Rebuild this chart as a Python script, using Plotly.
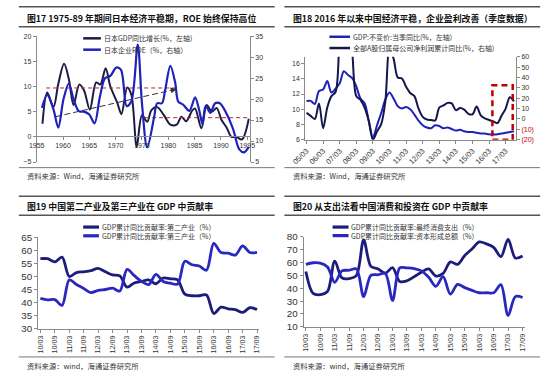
import plotly.graph_objects as go

W, H = 550, 377
def px(x): return x / W
def py(y): return 1 - y / H

# ---------------- DATA ----------------
# Fig 17: Japan GDP yoy (left axis) and corporate ROE (right axis)
jp_gdp_year = [1956.1, 1957.0, 1958.2, 1959.1, 1960.2, 1961.1, 1962.0, 1963.1, 1964.0, 1965.1,
               1966.3, 1967.1, 1968.1, 1969.0, 1970.3, 1971.1, 1972.2, 1973.0, 1974.0, 1975.0,
               1976.0, 1976.8, 1977.9, 1979.1, 1980.4, 1981.6, 1982.5, 1983.4, 1984.6, 1985.1,
               1986.3, 1987.3, 1988.3, 1989.2, 1990.1, 1991.1, 1992.0, 1992.9, 1994.0, 1995.3]
jp_gdp = [2.6, 8.8, 5.9, 10.5, 14.5, 11.5, 6.3, 10.4, 9.2, 5.4,
          10.8, 10.4, 13.6, 10.0, 6.8, 4.5, 9.8, 8.3, -2.0, 4.3,
          3.0, 5.3, 5.9, 4.4, 2.4, 2.4, 4.0, 3.1, 5.3, 5.6,
          1.7, 6.3, 5.0, 5.7, 3.4, 1.8, 0.0, 0.0, -0.5, 3.6]
jp_roe_year = [1956.0, 1957.0, 1958.2, 1959.1, 1960.1, 1961.1, 1962.0, 1963.0, 1964.0, 1965.0,
               1966.0, 1967.0, 1968.0, 1969.0, 1970.1, 1971.0, 1972.1, 1973.0, 1974.2, 1975.0,
               1976.0, 1977.3, 1977.9, 1978.8, 1979.4, 1980.4, 1981.3, 1981.9, 1982.8, 1984.0,
               1985.1, 1985.9, 1986.5, 1987.1, 1988.0, 1988.9, 1989.8, 1991.0, 1992.3, 1993.5,
               1994.4, 1995.3]
jp_roe = [17.9, 21.0, 17.5, 13.2, 20.0, 23.7, 20.0, 17.1, 17.0, 16.3,
          14.2, 20.5, 25.0, 25.5, 27.5, 27.0, 18.3, 19.5, 33.0, 19.0,
          8.5, 15.6, 19.0, 19.0, 22.1, 27.9, 24.0, 19.4, 18.7, 17.2,
          20.4, 17.2, 14.0, 18.4, 16.7, 19.0, 19.0, 16.7, 12.9, 8.0,
          7.3, 8.6]
ref_high_year = [1956.8, 1981.6]
ref_high = [9.7, 9.7]
ref_low_year = [1975.6, 1995.5]
ref_low = [3.8, 3.8]
trend_year = [1958.6, 1981.6]
trend = [4.0, 9.5]
year_ticks = [1955, 1960, 1965, 1970, 1975, 1980, 1985, 1990, 1995]

# Fig 18: China GDP quarterly yoy (left) and A-share net profit cumulative yoy (right)
q18 = [f"{y:02d}/{m}" for y in range(5, 18) for m in ("03", "06", "09", "12")][:51]
cn_gdp_q = [11.1, 11.1, 10.7, 12.4, 12.6, 13.7, 12.2, 12.7, 13.4, 15.0,
            14.5, 14.1, 13.0, 11.4, 10.8, 8.5, 6.3, 7.9, 9.5, 11.3,
            12.2, 11.4, 10.4, 10.1, 10.3, 10.0, 9.3, 8.5, 7.9, 7.6,
            7.5, 7.9, 7.8, 7.5, 7.6, 7.4, 7.2, 7.3, 7.1, 7.0,
            7.0, 6.9, 6.8, 6.8, 6.7, 6.7, 6.7, 6.8, 6.9, 7.0, 7.1]
a_profit = [6, 3, 0, 15, -9, 11, 22, 26, 75, 95,
            90, 65, 22, 18.5, 11, -2, -20, -12, -5, 17,
            68, 58, 40, 39, 31, 25, 22, 10, 2, -0.5,
            -1, -1.5, 11, 13, 15.5, 15, 8.5, 10.5, 9, 5,
            4.5, 12, 3.5, 0.5, -1, -2.5, -4, 3, 10, 21, 17]
box18_x = [44.8, 49.7]
box18_y = [-20, 32.5]
left18_ticks = [6, 8, 10, 12, 14, 16]
right18_ticks = [-20, -10, 0, 10, 20, 30, 40, 50, 60]
right18_text = ['<span style="color:#c00000">(20)</span>', '<span style="color:#c00000">(10)</span>',
                '0', '10', '20', '30', '40', '50', '60']

# Fig 19 / Fig 20: quarterly 2010Q1 - 2017Q3
q19 = [f"{y:02d}/{m}" for y in range(10, 18) for m in ("03", "06", "09", "12")][:31]
secondary = [56.8, 56.8, 55.6, 57.4, 50.0, 51.5, 51.8, 52.2, 53.1, 51.8,
             50.6, 50.2, 45.9, 47.5, 48.1, 48.7, 47.2, 49.4, 49.1, 48.7,
             43.2, 42.6, 42.6, 42.9, 35.8, 38.2, 37.6, 37.3, 36.2, 38.0, 37.3]
tertiary = [41.6, 41.0, 41.1, 38.9, 48.7, 46.9, 45.4, 43.8, 44.7, 45.0,
            45.5, 44.4, 52.7, 50.3, 48.1, 46.9, 50.8, 48.1, 47.4, 47.1,
            55.8, 54.5, 54.0, 52.4, 62.7, 59.2, 58.9, 58.2, 61.7, 59.2, 59.2]
consumption = [53.0, 36.0, 35.0, 37.5, 61.0, 48.0, 47.5, 50.0, 77.5, 57.0,
               55.0, 51.7, 56.0, 45.2, 45.8, 49.0, 52.5, 55.0, 49.5, 51.5,
               60.5, 58.5, 65.5, 70.5, 76.0, 74.5, 71.8, 64.5, 78.0, 63.5, 65.0]
capital = [58.5, 59.8, 59.5, 56.5, 44.6, 53.5, 54.0, 55.0, 33.5, 50.0,
           50.5, 51.5, 30.5, 55.8, 55.8, 55.3, 53.5, 48.5, 41.5, 49.0,
           35.5, 43.0, 40.5, 38.3, 36.5, 36.5, 36.5, 42.8, 18.8, 33.5, 32.8]

# ---------------- STYLE ----------------
CJK = "Noto Sans CJK SC"
NUM = "Liberation Sans, Arial, sans-serif"
DARK = "#1b1d45"
BLUE = "#1f22b8"
NAVY = "#1c1c7a"
BLUE2 = "#2828c0"
RED = "#b52a2a"
tick_font = dict(family=NUM, size=7, color="#333")
big_tick_font = dict(family=NUM, size=9.8, color="#333")

fig = go.Figure()

def spl(color, width=2):
    return dict(color=color, width=width, shape="spline", smoothing=0.9)

# Fig 17
fig.add_trace(go.Scatter(x=jp_gdp_year, y=jp_gdp, xaxis="x", yaxis="y", mode="lines",
                         line=spl(DARK, 2), showlegend=False, hoverinfo="skip"))
fig.add_trace(go.Scatter(x=jp_roe_year, y=jp_roe, xaxis="x", yaxis="y2", mode="lines",
                         line=spl(BLUE, 2.2), showlegend=False, hoverinfo="skip"))
fig.add_trace(go.Scatter(x=ref_high_year, y=ref_high, xaxis="x", yaxis="y", mode="lines",
                         line=dict(color=RED, width=1, dash="4px,3px"), showlegend=False, hoverinfo="skip"))
fig.add_trace(go.Scatter(x=ref_low_year, y=ref_low, xaxis="x", yaxis="y", mode="lines",
                         line=dict(color=RED, width=1, dash="4px,3px"), showlegend=False, hoverinfo="skip"))
fig.add_trace(go.Scatter(x=trend_year, y=trend, xaxis="x", yaxis="y", mode="lines",
                         line=dict(color="#333", width=1, dash="6px,3px"), showlegend=False, hoverinfo="skip"))

# Fig 18
fig.add_trace(go.Scatter(x=q18, y=cn_gdp_q, xaxis="x2", yaxis="y3", mode="lines",
                         line=spl(BLUE, 2), showlegend=False, hoverinfo="skip"))
fig.add_trace(go.Scatter(x=q18, y=a_profit, xaxis="x2", yaxis="y4", mode="lines",
                         line=spl("#15164a", 2), showlegend=False, hoverinfo="skip"))

# Fig 19
fig.add_trace(go.Scatter(x=q19, y=secondary, xaxis="x3", yaxis="y5", mode="lines",
                         line=spl(NAVY, 2.8), showlegend=False, hoverinfo="skip"))
fig.add_trace(go.Scatter(x=q19, y=tertiary, xaxis="x3", yaxis="y5", mode="lines",
                         line=spl(BLUE2, 2.8), showlegend=False, hoverinfo="skip"))

# Fig 20
fig.add_trace(go.Scatter(x=q19, y=consumption, xaxis="x4", yaxis="y6", mode="lines",
                         line=spl(NAVY, 2.8), showlegend=False, hoverinfo="skip"))
fig.add_trace(go.Scatter(x=q19, y=capital, xaxis="x4", yaxis="y6", mode="lines",
                         line=spl(BLUE2, 2.8), showlegend=False, hoverinfo="skip"))

axis_common = dict(showgrid=False, zeroline=False, showline=True, linecolor="#8a8a8a",
                   linewidth=1, ticks="outside", ticklen=3, tickcolor="#8a8a8a", fixedrange=True)

layout = dict(
    width=W, height=H, margin=dict(l=0, r=0, t=0, b=0),
    paper_bgcolor="white", plot_bgcolor="white", showlegend=False,
    # Fig 17
    xaxis=dict(axis_common, domain=[px(23.5), px(244.3)], range=[1955, 1995.5],
               tickvals=year_ticks, anchor="free", position=py(134), tickfont=tick_font),
    yaxis=dict(axis_common, domain=[py(160.7), py(31)], range=[-5, 20], dtick=5,
               anchor="x", tickfont=tick_font),
    yaxis2=dict(axis_common, overlaying="y", side="right", range=[5, 35], dtick=5,
                anchor="x", tickfont=tick_font),
    # Fig 18
    xaxis2=dict(axis_common, domain=[px(301.7), px(520)], type="category", range=[-0.3, 50.5],
                tickmode="array", tickvals=q18[::4], tickangle=-45, anchor="y3",
                tickfont=dict(family=NUM, size=7.5, color="#333")),
    yaxis3=dict(axis_common, domain=[py(137.7), py(52.3)], range=[6, 16.9],
                tickvals=left18_ticks, anchor="x2", tickfont=tick_font),
    yaxis4=dict(axis_common, overlaying="y3", side="right", range=[-20, 60],
                tickvals=right18_ticks, ticktext=right18_text, anchor="x2", tickfont=tick_font),
    # Fig 19
    xaxis3=dict(axis_common, domain=[px(25), px(254)], type="category", range=[-0.31, 30.3],
                tickangle=-90, anchor="y5", tickfont=dict(family=NUM, size=7.2, color="#333")),
    yaxis5=dict(axis_common, domain=[py(332.3), py(238.3)], range=[30, 65], dtick=5,
                anchor="x3", tickfont=big_tick_font),
    # Fig 20
    xaxis4=dict(axis_common, domain=[px(300), px(529)], type="category", range=[-0.31, 30.3],
                tickangle=-90, anchor="y6", tickfont=dict(family=NUM, size=7.2, color="#333")),
    yaxis6=dict(axis_common, domain=[py(330.5), py(237.7)], range=[10, 80], dtick=10,
                anchor="x4", tickfont=big_tick_font),
)
fig.update_layout(**layout)

shapes = []
annotations = []

def hline(x0, x1, y, color, width):
    shapes.append(dict(type="line", xref="paper", yref="paper", x0=px(x0), x1=px(x1),
                       y0=py(y), y1=py(y), line=dict(color=color, width=width)))

def text(x, y, s, size, color="#222", bold=False, family=CJK):
    annotations.append(dict(xref="paper", yref="paper", x=px(x), y=py(y), text=(f"<b>{s}</b>" if bold else s),
                            showarrow=False, xanchor="left", yanchor="middle",
                            font=dict(family=family, size=size, color=color)))

# Panel frames (separators, titles, sources)
for (x0, x1, tx) in [(5, 270, 11.7), (280, 545, 286.7)]:
    hline(x0, x1, 0.7, "#555", 1.5)
    hline(x0, x1, 21.5, "#555", 1.5)
    hline(x0, x1, 166.5, "#777", 1)
    hline(x0, x1, 196, "#555", 1.5)
    hline(x0, x1, 215.5, "#555", 1.5)
    hline(x0, x1, 361.5, "#777", 1)

text(11.7, 12.5, "图17 1975-89 年期间日本经济平稳期，ROE 始终保持高位", 8.9, "#111", True)
text(286.7, 12.5, "图18 2016 年以来中国经济平稳，企业盈利改善（季度数据）", 8.9, "#111", True)
text(11.7, 206.5, "图19 中国第二产业及第三产业在 GDP 中贡献率", 8.9, "#111", True)
text(286.7, 206.5, "图20 从支出法看中国消费和投资在 GDP 中贡献率", 8.9, "#111", True)
text(11.7, 175.5, "资料来源：Wind，海通证券研究所", 7.3, "#333")
text(286.7, 175.5, "资料来源：Wind，海通证券研究所", 7.3, "#333")
text(11.7, 370.5, "资料来源：wind，海通证券研究所", 7.3, "#333")
text(286.7, 370.5, "资料来源：wind，海通证券研究所", 7.3, "#333")

# Legends (manual)
def legend_item(x0, x1, y, color, label, width=2.5):
    shapes.append(dict(type="line", xref="paper", yref="paper", x0=px(x0), x1=px(x1),
                       y0=py(y), y1=py(y), line=dict(color=color, width=width)))
    text(x1 + 1, y, label, 7, "#333")

legend_item(71.7, 90, 33.3, DARK, "日本GDP同比增长(%，左轴)")
legend_item(71.7, 90, 45, BLUE, "日本企业ROE（%，右轴）")
legend_item(326.7, 348, 31.7, BLUE, "GDP:不变价:当季同比(%，左轴)")
legend_item(326.7, 348, 43.3, "#15164a", "全部A股归属母公司净利润累计同比(%，右轴)")
legend_item(71.7, 88, 227.7, NAVY, "GDP累计同比贡献率:第二产业（%）", 3.2)
legend_item(71.7, 88, 236.7, BLUE2, "GDP累计同比贡献率:第三产业（%）", 3.2)
legend_item(330, 346.5, 227.7, NAVY, "GDP累计同比贡献率:最终消费支出（%）", 3.2)
legend_item(330, 346.5, 236.5, BLUE2, "GDP累计同比贡献率:资本形成总额（%）", 3.2)

# Fig 18 highlight box
shapes.append(dict(type="rect", xref="x2", yref="y4", x0=box18_x[0], x1=box18_x[1],
                   y0=box18_y[0], y1=box18_y[1], line=dict(color="#c00000", width=2.5, dash="6px,4px")))

# Fig 17 trend arrow head
slope = (trend[1] - trend[0]) / (trend_year[1] - trend_year[0])
annotations.append(dict(xref="x", yref="y", axref="x", ayref="y",
                        x=trend_year[1], y=trend[1], ax=trend_year[1] - 1.2, ay=trend[1] - 1.2 * slope,
                        showarrow=True, arrowhead=2, arrowsize=1.2, arrowwidth=1, arrowcolor="#333", text=""))

fig.update_layout(shapes=shapes, annotations=annotations)
fig.write_html("out.html", config={"displayModeBar": False, "staticPlot": True},
               post_script="document.body.style.margin='0';document.body.style.overflow='hidden';")
